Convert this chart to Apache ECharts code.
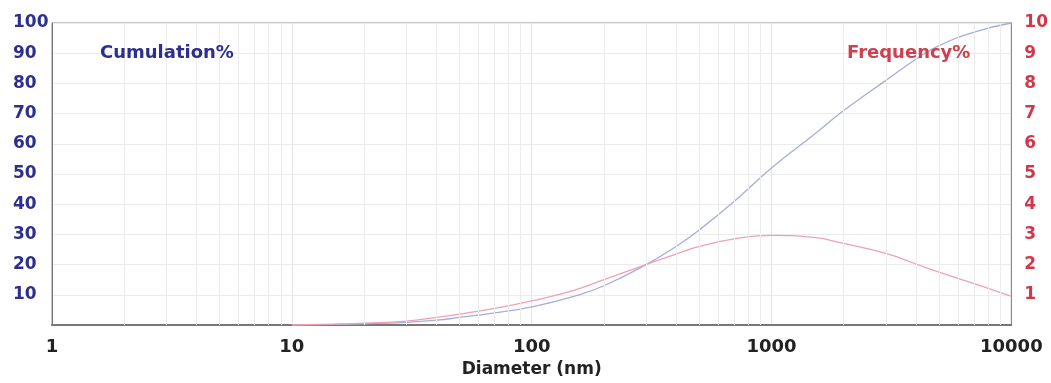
<!DOCTYPE html>
<html>
<head>
<meta charset="utf-8">
<script src="https://cdn.jsdelivr.net/npm/echarts@6/dist/echarts.min.js"></script>
<style>html,body{margin:0;padding:0;background:#fff;}#c{width:1051px;height:383px;}</style>
</head>
<body>
<div id="c"></div>
<script>
const diameters = [10, 15, 20, 30, 40, 50, 70, 100, 150, 200, 300, 400, 500, 700, 1000, 1500, 2000, 3000, 4000, 5000, 7000, 10000];
const cumulation = [0, 0.2, 0.4, 0.9, 1.6, 2.5, 4, 6, 9.5, 13, 20, 26, 31.5, 41, 52, 63, 71, 81, 88, 92.5, 97, 100];
const frequency  = [0, 0.03, 0.06, 0.13, 0.25, 0.36, 0.55, 0.8, 1.15, 1.5, 2.0, 2.35, 2.6, 2.85, 2.97, 2.9, 2.7, 2.37, 2.02, 1.75, 1.37, 0.95];
const minorGridX = [2,3,4,5,6,7,8,9,20,30,40,50,60,70,80,90,200,300,400,500,600,700,800,900,2000,3000,4000,5000,6000,7000,8000,9000];
const xTickLabels = [1, 10, 100, 1000, 10000];

const chart = echarts.init(document.getElementById('c'));
const F = 'DejaVu Sans';
chart.setOption({
  animation: false,
  backgroundColor: '#fff',
  grid: { left: 52, right: 39, top: 23, bottom: 58, show: true, borderColor: '#8a8a8a', borderWidth: 1 },
  xAxis: {
    type: 'log', logBase: 10, min: 1, max: 10000,
    name: 'Diameter (nm)', nameLocation: 'middle', nameGap: 36,
    nameTextStyle: { fontFamily: F, fontWeight: 'bold', fontSize: 17, color: '#222' },
    axisLine: { show: true, onZero: false, lineStyle: { color: '#777', width: 2 } },
    axisTick: { show: false },
    axisLabel: { fontFamily: F, fontWeight: 'bold', fontSize: 18, color: '#222', margin: 13,
      formatter: v => xTickLabels.indexOf(Math.round(v)) >= 0 ? String(Math.round(v)) : '' },
    splitLine: { show: true, lineStyle: { color: '#e6e6e6', width: 1 } }
  },
  yAxis: [
    { type: 'value', min: 0, max: 100, interval: 10, position: 'left',
      axisLine: { show: true, lineStyle: { color: '#777', width: 1 } },
      axisTick: { show: false },
      axisLabel: { fontFamily: F, fontWeight: 'bold', fontSize: 17, color: '#2e2e8e', align: 'left', margin: 39,
        formatter: v => v === 0 ? '' : String(v) },
      splitLine: { show: true, lineStyle: { color: '#ececec', width: 1 } } },
    { type: 'value', min: 0, max: 10, interval: 1, position: 'right',
      axisLine: { show: true, lineStyle: { color: '#888', width: 1 } },
      axisTick: { show: false },
      axisLabel: { fontFamily: F, fontWeight: 'bold', fontSize: 17, color: '#d0384a', align: 'left', margin: 13,
        formatter: v => v === 0 ? '' : String(v) },
      splitLine: { show: false } }
  ],
  graphic: [
    { type: 'text', z: 100, left: 100, top: 44, style: { text: 'Cumulation%', fontFamily: F, fontWeight: 'bold', fontSize: 18, fill: '#2e2e8e' } },
    { type: 'text', z: 100, left: 847, top: 44, style: { text: 'Frequency%', fontFamily: F, fontWeight: 'bold', fontSize: 18, fill: '#cc4050' } }
  ],
  series: [
    { type: 'line', yAxisIndex: 0, silent: true, symbol: 'none', data: [],
      markLine: { silent: true, symbol: 'none', label: { show: false },
        lineStyle: { color: '#ececec', width: 1, type: 'solid' },
        data: minorGridX.map(v => ({ xAxis: v })) } },
    { name: 'Cumulation%', type: 'line', yAxisIndex: 0, smooth: true, symbol: 'none',
      lineStyle: { color: '#a6addc', width: 1.3 },
      data: diameters.map((d, i) => [d, cumulation[i]]) },
    { name: 'Frequency%', type: 'line', yAxisIndex: 1, smooth: true, symbol: 'none',
      lineStyle: { color: '#eca2b4', width: 1.3 },
      data: diameters.map((d, i) => [d, frequency[i]]) }
  ]
});
</script>
</body>
</html>
